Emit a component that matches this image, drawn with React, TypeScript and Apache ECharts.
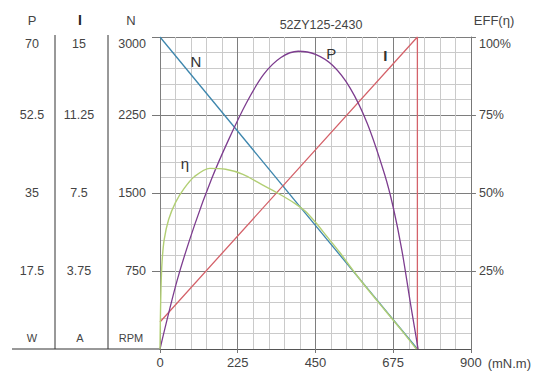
import React, { useEffect, useRef } from "react";
import * as echarts from "echarts";

// Torque (mN.m) axis ticks
const torqueTicks = [0, 225, 450, 675, 900];

// N (RPM) vs torque
const nTorque = [0, 745];
const nSpeed = [3000, 0];

// I (A) vs torque
const iTorque = [0, 745, 745];
const iCurrent = [1.3, 15, 0];

// P (W) vs torque
const pTorque = [0, 50, 100, 150, 200, 250, 300, 350, 400, 450, 500, 550, 600, 650, 675, 700, 725, 747];
const pPower = [0, 15.5, 27.8, 38.3, 47.2, 55.2, 61.6, 65.4, 66.8, 66.1, 63.6, 58.6, 50.6, 39.2, 31.8, 22.2, 10.2, 0];

// Efficiency (%) vs torque
const etaTorque = [0, 1, 3, 6, 12, 25, 45, 70, 100, 144, 190, 240, 290, 340, 390, 420, 450, 480, 520, 560, 600, 650, 700, 742];
const etaValue = [0, 9, 20, 28, 35, 41.5, 47, 51.5, 55.3, 57.9, 57.6, 56, 53, 50, 46.7, 44.2, 40.6, 36.5, 31, 25, 19.3, 12.6, 5.9, 0];

// Curve name labels (torque, RPM-scale position)
const curveLabels = [
  { name: "N", torque: 104, at: 2769, bold: false },
  { name: "P", torque: 496, at: 2840, bold: false },
  { name: "I", torque: 652, at: 2826, bold: true },
  { name: "η", torque: 72, at: 1785, bold: false },
];

const FONT = "'Liberation Sans', Arial, sans-serif";
const TXT = "#444";

const pair = (xs: number[], ys: number[]) => xs.map((x, i) => [x, ys[i]]);

export default function App() {
  const ref = useRef<HTMLDivElement>(null);
  useEffect(() => {
    const chart = echarts.init(ref.current!, null, { renderer: "svg" });
    const major = "#7e7e7e";
    const minor = "#cacaca";
    const option: any = {
      animation: false,
      backgroundColor: "#fff",
      textStyle: { fontFamily: FONT },
      title: {
        text: "52ZY125-2430",
        left: 316,
        textAlign: "center",
        top: 13,
        textStyle: { fontSize: 12.5, fontWeight: "normal", color: TXT, fontFamily: FONT },
      },
      grid: { left: 160, top: 37, width: 312, height: 312, containLabel: false },
      xAxis: {
        type: "value",
        min: torqueTicks[0],
        max: torqueTicks[torqueTicks.length - 1],
        interval: torqueTicks[1] - torqueTicks[0],
        name: "(mN.m)",
        nameLocation: "end",
        nameGap: 11,
        nameTextStyle: { color: TXT, fontSize: 13, verticalAlign: "top", padding: [8, 0, 0, 0], fontFamily: FONT },
        axisLine: { show: true, lineStyle: { color: "#555" } },
        axisTick: { show: true, length: 4, lineStyle: { color: "#777" } },
        axisLabel: { color: TXT, fontSize: 13, margin: 7, fontFamily: FONT },
        splitLine: { show: true, lineStyle: { color: major } },
        minorTick: { show: false, splitNumber: 5 },
        minorSplitLine: { show: true, lineStyle: { color: minor } },
      },
      yAxis: [
        {
          type: "value",
          position: "left",
          min: 0,
          max: 3000,
          interval: 750,
          axisLine: { show: false },
          axisTick: { show: true, length: 8, lineStyle: { color: "#777" } },
          axisLabel: {
            color: TXT,
            fontSize: 12.5,
            margin: 14,
            showMinLabel: false,
            fontFamily: FONT,
            formatter: (v: number) => (v === 3000 ? "\n" + v : String(v)),
          },
          splitLine: { show: true, lineStyle: { color: major } },
          minorTick: { show: false, splitNumber: 5 },
          minorSplitLine: { show: true, lineStyle: { color: minor } },
        },
        {
          type: "value",
          position: "left",
          min: 0,
          max: 70,
          interval: 17.5,
          axisLine: { show: false },
          axisTick: { show: false },
          splitLine: { show: false },
          axisLabel: {
            color: TXT,
            fontSize: 12.5,
            margin: 128,
            align: "center",
            showMinLabel: false,
            fontFamily: FONT,
            formatter: (v: number) => (v === 70 ? "\n" + v : String(v)),
          },
        },
        {
          type: "value",
          position: "left",
          min: 0,
          max: 15,
          interval: 3.75,
          axisLine: { show: false },
          axisTick: { show: false },
          splitLine: { show: false },
          axisLabel: {
            color: TXT,
            fontSize: 12.5,
            margin: 81,
            align: "center",
            showMinLabel: false,
            fontFamily: FONT,
            formatter: (v: number) => (v === 15 ? "\n" + v : String(v)),
          },
        },
        {
          type: "value",
          position: "right",
          min: 0,
          max: 100,
          interval: 25,
          axisLine: { show: true, lineStyle: { color: "#777" } },
          axisTick: { show: true, length: 5, lineStyle: { color: "#777" } },
          splitLine: { show: false },
          axisLabel: {
            color: TXT,
            fontSize: 12.5,
            margin: 8,
            showMinLabel: false,
            fontFamily: FONT,
            formatter: (v: number) => (v === 100 ? "\n" + v + "%" : v + "%"),
          },
        },
      ],
      series: [
        {
          name: "N",
          type: "line",
          yAxisIndex: 0,
          data: pair(nTorque, nSpeed),
          symbol: "none",
          lineStyle: { color: "#3d86ad", width: 1.3 },
          markPoint: {
            symbol: "circle",
            symbolSize: 0,
            label: { show: true, position: "inside", color: "#333", fontSize: 15, fontFamily: FONT },
            data: curveLabels.map((c) => ({
              coord: [c.torque, c.at],
              value: c.name,
              label: { formatter: c.name, fontWeight: c.bold ? "bold" : "normal" },
            })),
          },
        },
        {
          name: "I",
          type: "line",
          yAxisIndex: 2,
          data: pair(iTorque, iCurrent),
          symbol: "none",
          lineStyle: { color: "#d4626a", width: 1.3 },
        },
        {
          name: "P",
          type: "line",
          yAxisIndex: 1,
          data: pair(pTorque, pPower),
          symbol: "none",
          smooth: 0.3,
          lineStyle: { color: "#7d3d8f", width: 1.3 },
        },
        {
          name: "η",
          type: "line",
          yAxisIndex: 3,
          data: pair(etaTorque, etaValue),
          symbol: "none",
          smooth: 0.3,
          lineStyle: { color: "#b2cf74", width: 1.4 },
        },
      ],
      graphic: [
        { type: "text", x: 32, y: 20, style: { text: "P", fill: TXT, fontSize: 13, fontFamily: FONT, textAlign: "center", textVerticalAlign: "middle" } },
        { type: "text", x: 80, y: 20, style: { text: "I", fill: "#222", fontSize: 14, fontWeight: "bold", fontFamily: FONT, textAlign: "center", textVerticalAlign: "middle" } },
        { type: "text", x: 131, y: 20, style: { text: "N", fill: TXT, fontSize: 13, fontFamily: FONT, textAlign: "center", textVerticalAlign: "middle" } },
        { type: "text", x: 494, y: 20, style: { text: "EFF(η)", fill: TXT, fontSize: 13, fontFamily: FONT, textAlign: "center", textVerticalAlign: "middle" } },
        { type: "text", x: 32, y: 338, style: { text: "W", fill: TXT, fontSize: 11, fontFamily: FONT, textAlign: "center", textVerticalAlign: "middle" } },
        { type: "text", x: 80, y: 338, style: { text: "A", fill: TXT, fontSize: 11, fontFamily: FONT, textAlign: "center", textVerticalAlign: "middle" } },
        { type: "text", x: 131, y: 338, style: { text: "RPM", fill: TXT, fontSize: 11, fontFamily: FONT, textAlign: "center", textVerticalAlign: "middle" } },
        { type: "line", shape: { x1: 55, y1: 35, x2: 55, y2: 349 }, style: { stroke: "#333", lineWidth: 1 } },
        { type: "line", shape: { x1: 108, y1: 35, x2: 108, y2: 349 }, style: { stroke: "#333", lineWidth: 1 } },
        { type: "line", shape: { x1: 12, y1: 349, x2: 160, y2: 349 }, style: { stroke: "#333", lineWidth: 1 } },
      ],
    };
    chart.setOption(option);
    return () => chart.dispose();
  }, []);
  return (
    <div
      ref={ref}
      style={{ position: "fixed", left: 0, top: 0, width: 534, height: 372, background: "#fff" }}
    />
  );
}
